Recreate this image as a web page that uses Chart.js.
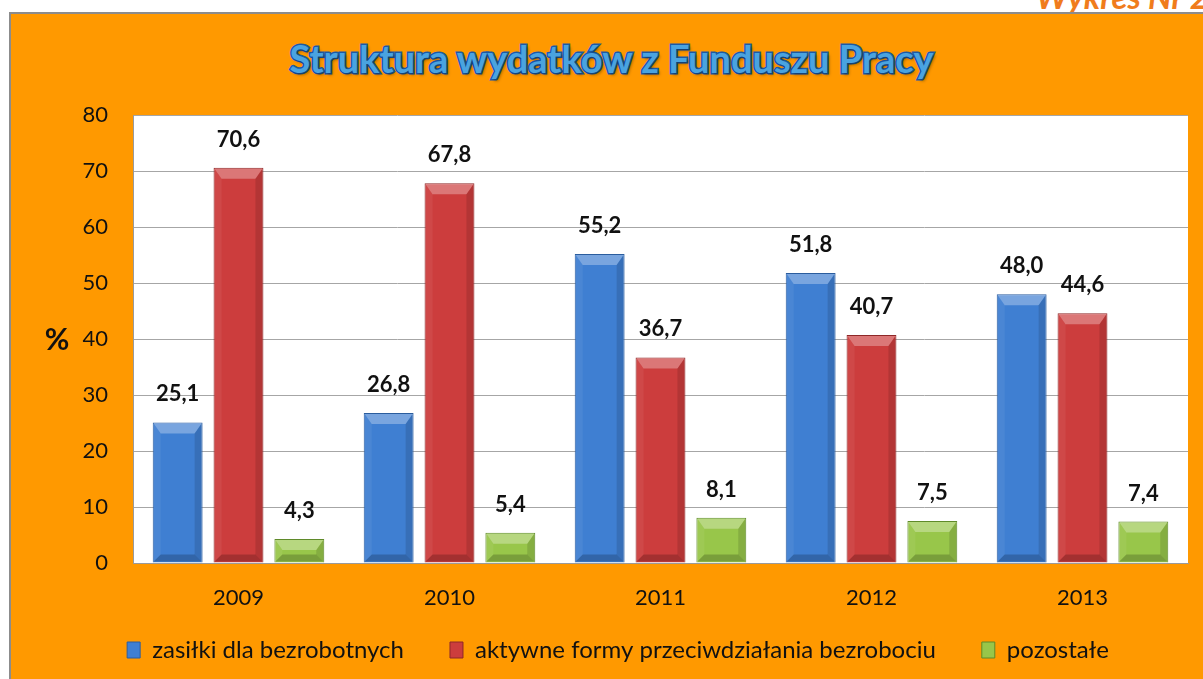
<!DOCTYPE html>
<html>
<head>
<meta charset="utf-8">
<script src="https://cdn.jsdelivr.net/npm/chart.js@4.4.0/dist/chart.umd.min.js"></script>
<style>
  html, body { margin: 0; padding: 0; background: #fff; overflow: hidden; }
  body { width: 1203px; height: 679px; position: relative; font-family: Lato, sans-serif; }
  #nr { position: absolute; right: -6px; top: -24px; font: italic bold 33px Lato, sans-serif; color: #f07c1c; }
  #frame { position: absolute; left: 9px; top: 12px; width: 1200px; height: 680px; background: #ff9900; border: 2px solid #8c8c8c; box-sizing: border-box; }
  #title { position: absolute; left: 0; top: 35px; width: 1223px; text-align: center; font: bold 38px Lato, sans-serif; color: #4aa3e0;
    -webkit-text-stroke: 3px #1d5ba6; paint-order: stroke fill; text-shadow: 2px 2px 3px rgba(0,0,0,0.35); }
  #wrap { position: absolute; left: 11px; top: 14px; width: 1192px; height: 665px; }
</style>
</head>
<body>
<div id="nr">Wykres Nr 2</div>
<div id="frame"></div>
<div id="title">Struktura wydatków z Funduszu Pracy</div>
<div id="wrap"><canvas id="chart"></canvas></div>
<script>
const years = ['2009', '2010', '2011', '2012', '2013'];
const zasilki = [25.1, 26.8, 55.2, 51.8, 48.0];
const aktywne = [70.6, 67.8, 36.7, 40.7, 44.6];
const pozostale = [4.3, 5.4, 8.1, 7.5, 7.4];
const yTicks = [0, 10, 20, 30, 40, 50, 60, 70, 80];

// white plot area
const plotBg = {
  id: 'plotBg',
  beforeDraw(chart) {
    const { ctx, chartArea: a } = chart;
    ctx.save();
    ctx.fillStyle = '#ffffff';
    ctx.fillRect(a.left, a.top, a.right - a.left, a.bottom - a.top);
    ctx.restore();
  }
};

// excel-like bevel on bars + value labels + "%" label
const bevel = {
  id: 'bevel',
  afterDatasetsDraw(chart) {
    const ctx = chart.ctx;
    const poly = (pts) => {
      ctx.beginPath();
      ctx.moveTo(pts[0][0], pts[0][1]);
      for (let k = 1; k < pts.length; k++) ctx.lineTo(pts[k][0], pts[k][1]);
      ctx.closePath();
      ctx.fill();
    };
    chart.data.datasets.forEach((ds, i) => {
      chart.getDatasetMeta(i).data.forEach((bar, j) => {
        const { x, y, base, width } = bar.getProps(['x', 'y', 'base', 'width'], true);
        const l = x - width / 2 + 1, r = x + width / 2 - 1, t = y + 1, b = base - 1;
        const d = Math.min(10, (b - t) / 2);
        const ds2 = Math.min(7, (b - t) / 2);
        ctx.save();
        ctx.fillStyle = 'rgba(255,255,255,0.30)';
        poly([[l, t], [r, t], [r - ds2, t + d], [l + ds2, t + d]]);
        ctx.fillStyle = 'rgba(255,255,255,0.06)';
        poly([[l, t], [l + ds2, t + d], [l + ds2, b - ds2], [l, b]]);
        ctx.fillStyle = 'rgba(0,0,0,0.12)';
        poly([[r, t], [r - ds2, t + d], [r - ds2, b - ds2], [r, b]]);
        ctx.fillStyle = 'rgba(0,0,0,0.2)';
        poly([[l, b], [l + ds2, b - ds2], [r - ds2, b - ds2], [r, b]]);

        ctx.fillStyle = '#111';
        ctx.font = 'bold 22px Lato, sans-serif';
        ctx.textAlign = 'center';
        ctx.textBaseline = 'alphabetic';
        ctx.fillText(ds.data[j].toFixed(1).replace('.', ','), x, y - 21);
        ctx.restore();
      });
    });
    const a = chart.chartArea;
    ctx.save();
    ctx.fillStyle = '#111';
    ctx.font = 'bold 30px Lato, sans-serif';
    ctx.textAlign = 'center';
    ctx.textBaseline = 'middle';
    ctx.fillText('%', a.left - 76, (a.top + a.bottom) / 2 + 1);
    ctx.restore();
  }
};

new Chart(document.getElementById('chart'), {
  type: 'bar',
  data: {
    labels: years,
    datasets: [
      { label: 'zasiłki dla bezrobotnych', data: zasilki, backgroundColor: '#3f7fd2', borderColor: '#2b5d9e', borderWidth: 1 },
      { label: 'aktywne formy przeciwdziałania bezrobociu', data: aktywne, backgroundColor: '#cc3d3d', borderColor: '#8e2828', borderWidth: 1 },
      { label: 'pozostałe', data: pozostale, backgroundColor: '#98c64a', borderColor: '#5f8a2a', borderWidth: 1 }
    ]
  },
  options: {
    responsive: true,
    maintainAspectRatio: false,
    animation: false,
    categoryPercentage: 0.865,
    barPercentage: 0.82,
    layout: { padding: { left: 37, right: 15, top: 101, bottom: 7 } },
    plugins: {
      legend: {
        position: 'bottom',
        labels: {
          color: '#111',
          font: { family: 'Lato, sans-serif', size: 24 },
          boxWidth: 13,
          boxHeight: 16,
          padding: 46
        }
      },
      tooltip: { enabled: false }
    },
    scales: {
      x: {
        grid: { display: false, drawTicks: false },
        border: { display: true, color: '#9a9a9a', width: 1 },
        ticks: { color: '#111', font: { family: 'Lato, sans-serif', size: 22 }, padding: 22 },
        afterFit(scale) {
          scale.height = 29;
          // labels sit below the thin axis box, so don't clip them to it
          scale._computeLabelArea = () => undefined;
        }
      },
      y: {
        min: 0,
        max: 80,
        afterBuildTicks(scale) { scale.ticks = yTicks.map(v => ({ value: v })); },
        grid: { color: '#a6a6a6', lineWidth: 1, drawTicks: false },
        border: { display: true, color: '#9a9a9a', width: 1 },
        ticks: { color: '#111', font: { family: 'Lato, sans-serif', size: 22 }, padding: 25 },
        afterFit(scale) { scale.width = 85; }
      }
    }
  },
  plugins: [plotBg, bevel]
});
</script>
</body>
</html>
